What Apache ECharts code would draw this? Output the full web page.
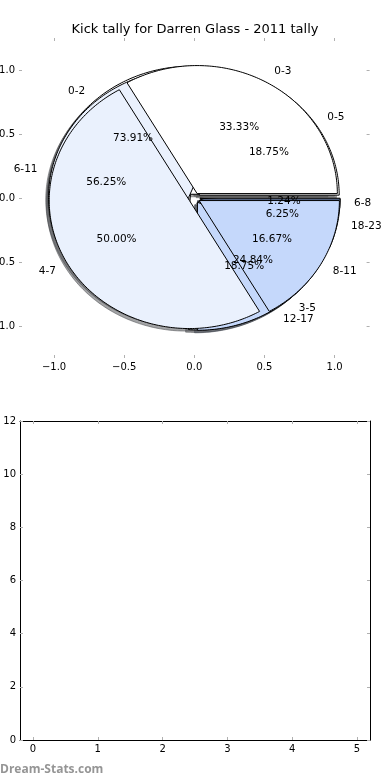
<!DOCTYPE html>
<html><head><meta charset="utf-8">
<script src="https://cdn.jsdelivr.net/npm/echarts@6/dist/echarts.min.js"></script>
<style>html,body{margin:0;padding:0;background:#fff}#c{width:390px;height:780px}</style>
</head><body><div id="c"></div>
<script>
// ---- data ----
const chartTitle = 'Kick tally for Darren Glass - 2011 tally';
const watermark = 'Dream-Stats.com';
// pies in drawing order (bottom -> top)
const pieALabels = ['0-2', '3-5', '6-8'];
const pieAValues = [119, 40, 2];
const pieBLabels = ['0-5', '6-11', '12-17', '18-23'];
const pieBValues = [3, 9, 3, 1];
const pieCLabels = ['0-3', '4-7', '8-11'];
const pieCValues = [2, 3, 1];
const pieTickValues = [-1, -0.5, 0, 0.5, 1];
const barXTickValues = [0, 1, 2, 3, 4, 5];

// ---- style ----
const sliceColors = [[255,255,255],[234,241,253],[197,216,251],[160,190,245]];
const EXPLODE = 0.04, LABEL_DIST = 1.1, PCT_DIST = 0.6, SHADOW = 0.02;
const FONT = 'DejaVu Sans';

const pies = [
  {labels: pieALabels, values: pieAValues},
  {labels: pieBLabels, values: pieBValues},
  {labels: pieCLabels, values: pieCValues}
];
const wedgeData = [];
pies.forEach((p, pi) => p.values.forEach((v, si) => wedgeData.push([pi, si])));

function geom(pi, si) {
  const vals = pies[pi].values;
  const total = vals.reduce((a, b) => a + b, 0);
  let before = 0;
  for (let i = 0; i < si; i++) before += vals[i];
  const t1 = before / total * 2 * Math.PI;
  const t2 = (before + vals[si]) / total * 2 * Math.PI;
  const tm = (t1 + t2) / 2;
  return {t1, t2, tm, cx: EXPLODE * Math.cos(tm), cy: EXPLODE * Math.sin(tm),
          pct: (vals[si] / total * 100).toFixed(2) + '%', label: pies[pi].labels[si]};
}
function pts(api, g, dx, dy) {
  const out = [api.coord([g.cx + dx, g.cy + dy])];
  const n = Math.max(2, Math.ceil((g.t2 - g.t1) * 180 / Math.PI));
  for (let i = 0; i <= n; i++) {
    const t = g.t1 + (g.t2 - g.t1) * i / n;
    out.push(api.coord([g.cx + dx + Math.cos(t), g.cy + dy + Math.sin(t)]));
  }
  return out;
}
const rgb = (c, k) => 'rgb(' + c.map(v => Math.round(v * k)).join(',') + ')';

const fmtPie = v => (v < 0 ? '\u2212' : '') + Math.abs(v).toFixed(1);
const tickStyle = {show: true, inside: true, length: 3, lineStyle: {color: '#b0b0b0', width: 1}};
const lbl = {color: '#000', fontSize: 10, fontFamily: FONT};
const noLine = {show: false, onZero: false};
const frameLine = {show: true, onZero: false, lineStyle: {color: '#000', width: 1}};

const chart = echarts.init(document.getElementById('c'), null, {renderer: 'canvas'});
chart.setOption({
  animation: false,
  backgroundColor: '#fff',
  graphic: [
    {type: 'text', x: 195, y: 30, style: {text: chartTitle, fill: '#000', fontSize: 13, fontFamily: FONT, align: 'center', verticalAlign: 'middle'}},
    {type: 'text', x: 0, y: 770, style: {text: watermark, fill: '#959595', fontSize: 12, fontWeight: 'bold', fontFamily: 'Open Sans', align: 'left', verticalAlign: 'middle'}}
  ],
  grid: [
    {left: 19, top: 38, width: 350.6, height: 320, outerBoundsMode: 'none', containLabel: false},
    {left: 20, top: 421, width: 350, height: 319, outerBoundsMode: 'none', containLabel: false}
  ],
  xAxis: [
    {gridIndex: 0, type: 'value', min: -1.25, max: 1.25, position: 'bottom',
     axisLine: noLine, splitLine: {show: false},
     axisTick: Object.assign({customValues: pieTickValues}, tickStyle),
     axisLabel: Object.assign({customValues: pieTickValues, formatter: fmtPie, margin: 4}, lbl)},
    {gridIndex: 0, type: 'value', min: -1.25, max: 1.25, position: 'top',
     axisLine: noLine, splitLine: {show: false},
     axisTick: Object.assign({customValues: pieTickValues}, tickStyle),
     axisLabel: {show: false}},
    {gridIndex: 1, type: 'value', min: -0.2, max: 5.2, position: 'bottom',
     axisLine: frameLine, splitLine: {show: false},
     axisTick: Object.assign({customValues: barXTickValues}, tickStyle),
     axisLabel: Object.assign({customValues: barXTickValues, margin: 4}, lbl)},
    {gridIndex: 1, type: 'value', min: -0.2, max: 5.2, position: 'top',
     axisLine: frameLine, splitLine: {show: false},
     axisTick: Object.assign({customValues: barXTickValues}, tickStyle),
     axisLabel: {show: false}}
  ],
  yAxis: [
    {gridIndex: 0, type: 'value', min: -1.25, max: 1.25, position: 'left',
     axisLine: noLine, splitLine: {show: false},
     axisTick: Object.assign({customValues: pieTickValues}, tickStyle),
     axisLabel: Object.assign({customValues: pieTickValues, formatter: fmtPie, margin: 4}, lbl)},
    {gridIndex: 0, type: 'value', min: -1.25, max: 1.25, position: 'right',
     axisLine: noLine, splitLine: {show: false},
     axisTick: Object.assign({customValues: pieTickValues}, tickStyle),
     axisLabel: {show: false}},
    {gridIndex: 1, type: 'value', min: 0, max: 12, interval: 2, position: 'left',
     axisLine: frameLine, splitLine: {show: false},
     axisTick: tickStyle,
     axisLabel: Object.assign({margin: 4}, lbl)},
    {gridIndex: 1, type: 'value', min: 0, max: 12, interval: 2, position: 'right',
     axisLine: frameLine, splitLine: {show: false},
     axisTick: tickStyle,
     axisLabel: {show: false}}
  ],
  series: [
    {type: 'custom', name: 'shadows', coordinateSystem: 'cartesian2d', xAxisIndex: 0, yAxisIndex: 0, z: 1,
     data: wedgeData, silent: true,
     renderItem: (params, api) => {
       const d = wedgeData[params.dataIndex];
       const g = geom(d[0], d[1]);
       const c = rgb(sliceColors[d[1]], 0.3);
       return {type: 'polygon', shape: {points: pts(api, g, -SHADOW, -SHADOW)},
               style: {fill: c, stroke: c, lineWidth: 1, opacity: 0.5}};
     }},
    {type: 'custom', name: 'wedges', coordinateSystem: 'cartesian2d', xAxisIndex: 0, yAxisIndex: 0, z: 2,
     data: wedgeData, silent: true,
     renderItem: (params, api) => {
       const d = wedgeData[params.dataIndex];
       const g = geom(d[0], d[1]);
       return {type: 'polygon', shape: {points: pts(api, g, 0, 0)},
               style: {fill: rgb(sliceColors[d[1]], 1), stroke: '#000', lineWidth: 1}};
     }},
    {type: 'custom', name: 'labels', coordinateSystem: 'cartesian2d', xAxisIndex: 0, yAxisIndex: 0, z: 3,
     data: wedgeData, silent: true,
     renderItem: (params, api) => {
       const d = wedgeData[params.dataIndex];
       const g = geom(d[0], d[1]);
       const lx = g.cx + LABEL_DIST * Math.cos(g.tm), ly = g.cy + LABEL_DIST * Math.sin(g.tm);
       const px = g.cx + PCT_DIST * Math.cos(g.tm), py = g.cy + PCT_DIST * Math.sin(g.tm);
       const lp = api.coord([lx, ly]), pp = api.coord([px, py]);
       return {type: 'group', children: [
         {type: 'text', x: lp[0], y: lp[1], style: {text: g.label, fill: '#000', fontSize: 10.5, fontFamily: FONT,
           align: lx > 0 ? 'left' : 'right', verticalAlign: 'middle'}},
         {type: 'text', x: pp[0], y: pp[1], style: {text: g.pct, fill: '#000', fontSize: 10.5, fontFamily: FONT,
           align: 'center', verticalAlign: 'middle'}}
       ]};
     }}
  ]
});
</script>
</body></html>
